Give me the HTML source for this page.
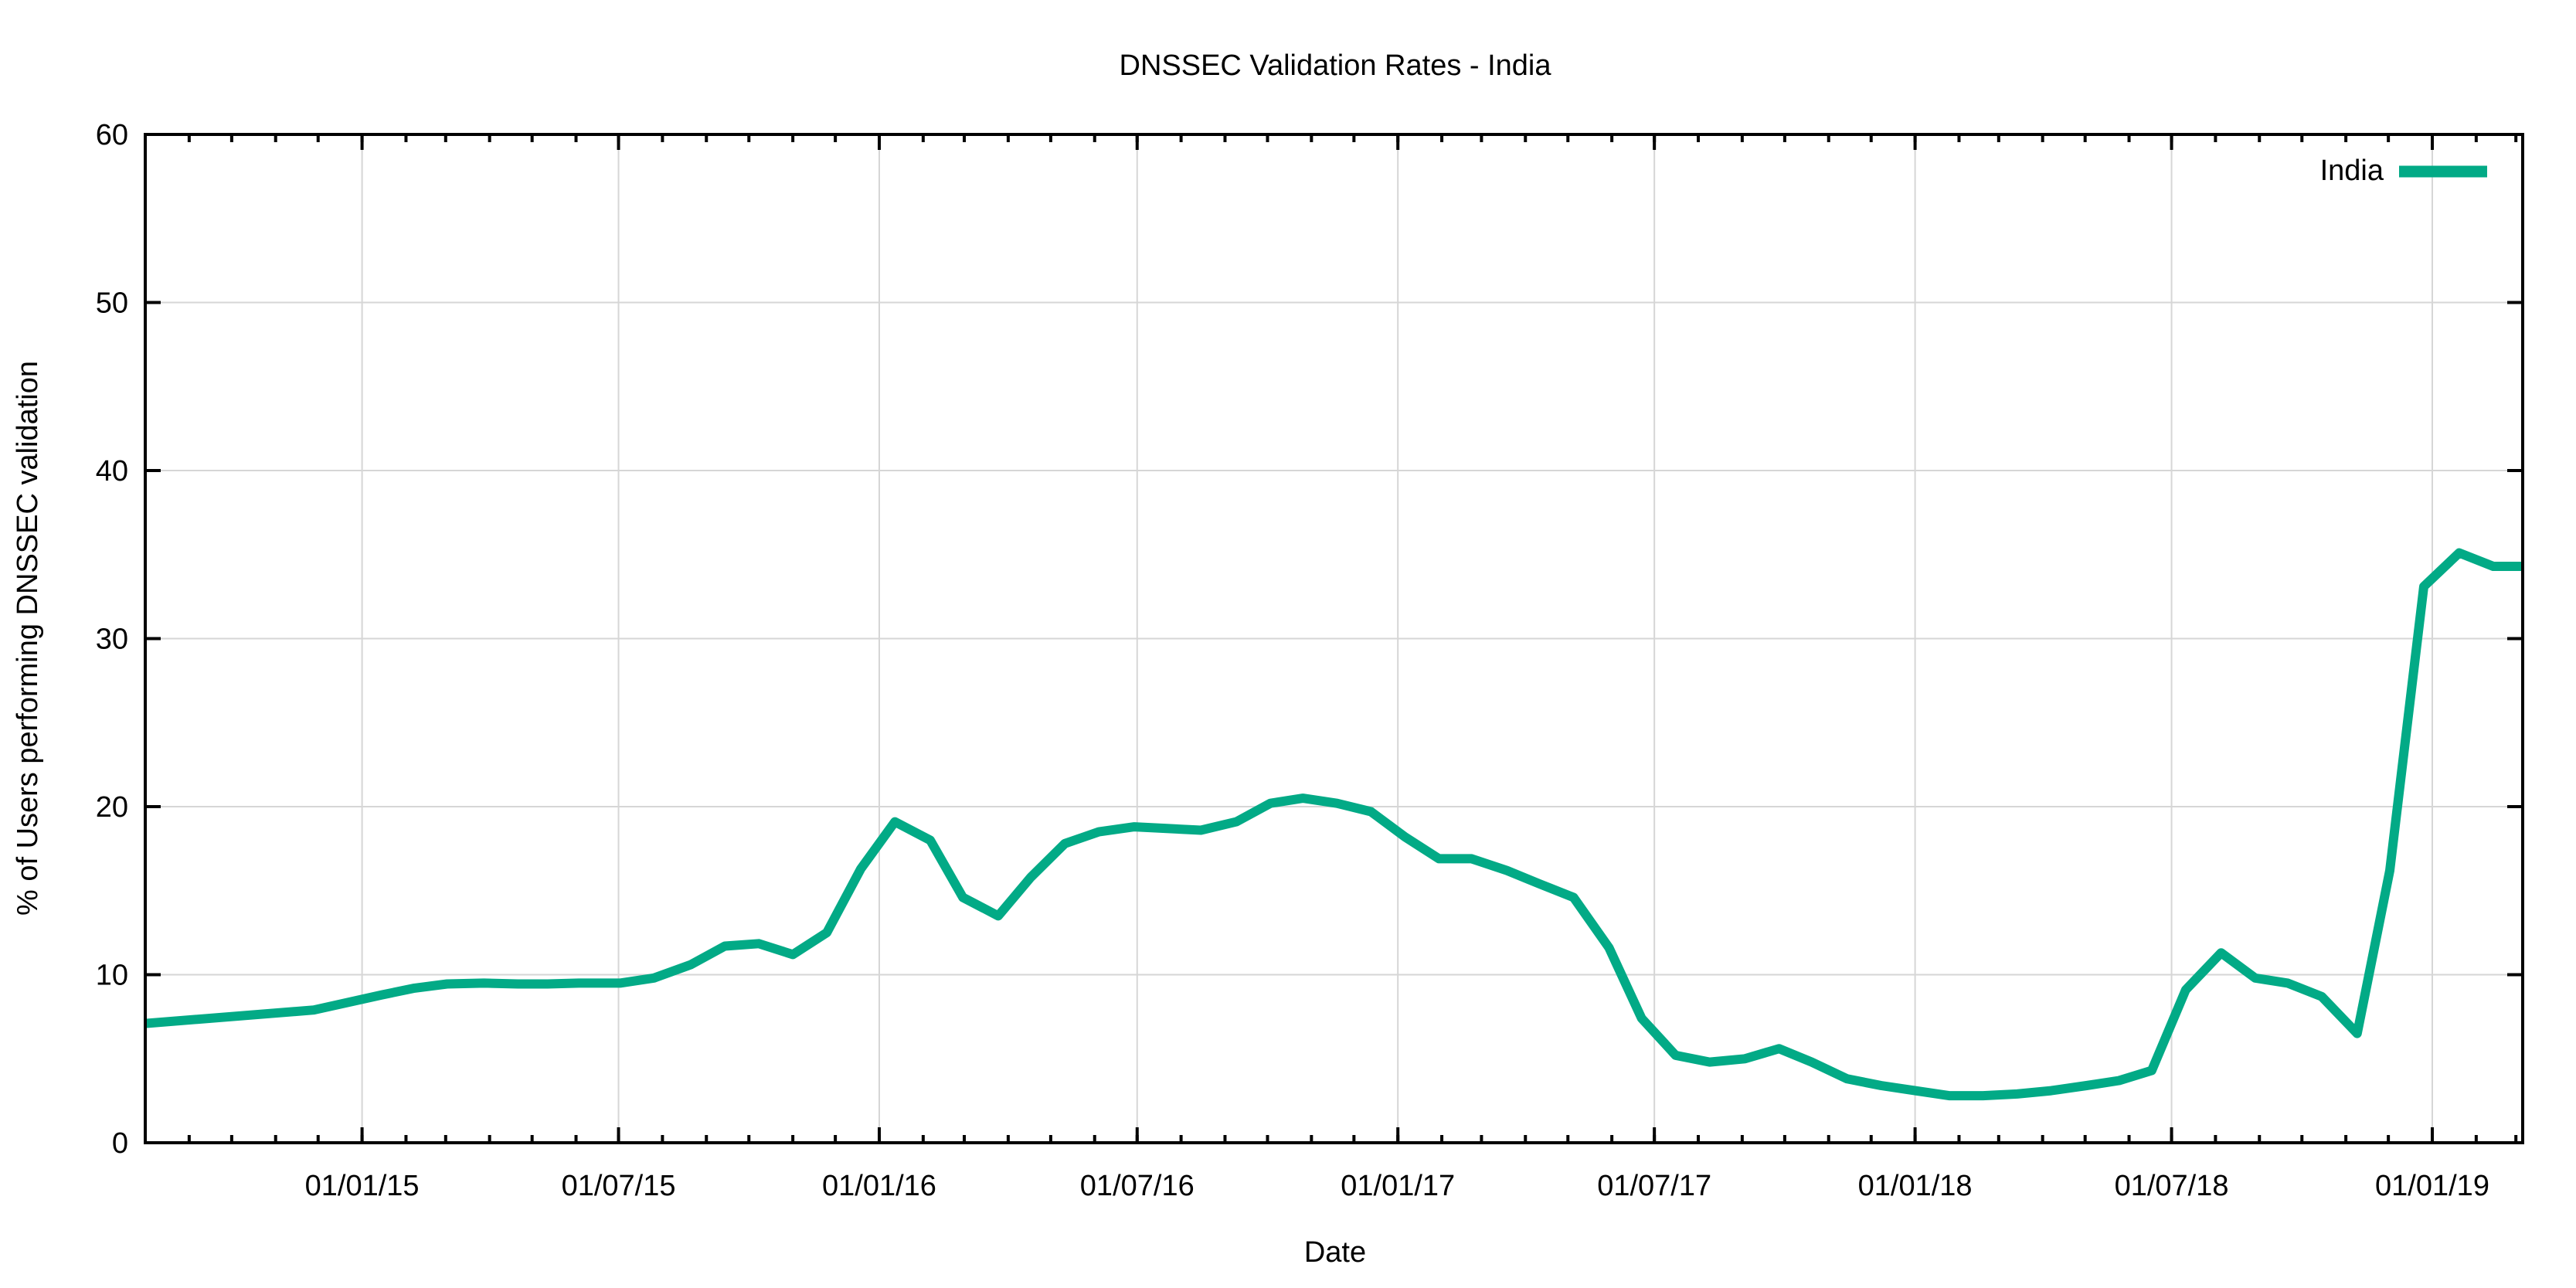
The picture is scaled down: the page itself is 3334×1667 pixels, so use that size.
<!DOCTYPE html>
<html><head><meta charset="utf-8"><style>
html,body{margin:0;padding:0;background:#fff;}
svg{display:block;font-family:"Liberation Sans",Arial,sans-serif;}
</style></head><body>
<svg id="chart" width="3334" height="1667" viewBox="0 0 3334 1667" xmlns="http://www.w3.org/2000/svg">
<rect width="3334" height="1667" fill="#fff"/>
<text x="1728" y="97" font-size="38" text-anchor="middle">DNSSEC Validation Rates - India</text>
<text transform="translate(48,826) rotate(-90)" font-size="38" text-anchor="middle">% of Users performing DNSSEC validation</text>
<text x="1728" y="1633" font-size="38" text-anchor="middle">Date</text>
<g id="grid"></g>
<g id="series"></g>
<g id="axes"></g>
<g id="legend">
<text x="3085" y="233" font-size="38" text-anchor="end">India</text>
<line x1="3105" y1="222" x2="3219" y2="222" stroke="#02aa86" stroke-width="15"/>
</g>
</svg>
<script>
// days since 2015-01-01
const dayOffsets = [-153,-34,14,37,60,86,110,131,153,182,206,232,256,280,304,328,352,376,401,424,449,472,496,520,545,568,592,617,641,664,688,712,736,760,783,808,831,855,880,903,927,951,976,1000,1023,1048,1072,1096,1120,1144,1168,1192,1217,1240,1263,1287,1312,1336,1359,1383,1408,1431,1455,1480,1504,1525];
const rates = [7.1,7.9,8.8,9.2,9.45,9.5,9.45,9.45,9.5,9.5,9.8,10.6,11.7,11.85,11.2,12.5,16.3,19.1,18.0,14.6,13.5,15.8,17.8,18.5,18.8,18.7,18.6,19.1,20.2,20.5,20.2,19.7,18.2,16.9,16.9,16.2,15.4,14.6,11.6,7.4,5.2,4.8,5.0,5.6,4.8,3.8,3.4,3.1,2.8,2.8,2.9,3.1,3.4,3.7,4.3,9.1,11.3,9.8,9.5,8.7,6.5,16.2,33.1,35.1,34.3,34.3];
const yTicks = [0,10,20,30,40,50,60];
const xTickLabels = ["01/01/15","01/07/15","01/01/16","01/07/16","01/01/17","01/07/17","01/01/18","01/07/18","01/01/19"];

const NS="http://www.w3.org/2000/svg";
const L=188,R=3265,T=174,B=1479;
const D0=-153,D1=1524.8;
function xs(d){return L+(d-D0)/(D1-D0)*(R-L);}
function ys(v){return B-v/60*(B-T);}
function mk(tag,attrs,parent){const e=document.createElementNS(NS,tag);for(const k in attrs)e.setAttribute(k,attrs[k]);parent.appendChild(e);return e;}
const base=Date.UTC(2015,0,1);
function dayOf(y,m){return Math.round((Date.UTC(y,m,1)-base)/86400000);}
function parseLbl(s){const p=s.split("/");return dayOf(2000+ +p[2],+p[1]-1);}
const grid=document.getElementById('grid'),axes=document.getElementById('axes'),series=document.getElementById('series');
yTicks.forEach(v=>{
  const y=ys(v);
  if(v>0&&v<60){const g=mk('line',{x1:L,x2:R,y1:y,y2:y,stroke:'#d6d6d6','stroke-width':2},grid);
  
  }
  const t1=mk('line',{x1:L,x2:L+20,y1:y,y2:y,stroke:'#000','stroke-width':4},axes);
  
  
  const t2=mk('line',{x1:R-20,x2:R,y1:y,y2:y,stroke:'#000','stroke-width':4},axes);
  
  
  const lb=mk('text',{x:166,y:y+13,'font-size':38,'text-anchor':'end'},axes);
  lb.textContent=v;
  
  
});
for(let y=2014;y<=2019;y++)for(let m=0;m<12;m++){
  const d=dayOf(y,m); if(d<D0||d>D1)continue;
  const x=xs(d);
  const a=mk('line',{x1:x,x2:x,y1:B,y2:B-10,stroke:'#000','stroke-width':4},axes);
  
  
  const b=mk('line',{x1:x,x2:x,y1:T,y2:T+10,stroke:'#000','stroke-width':4},axes);
  
  
}
xTickLabels.forEach(s=>{
  const x=xs(parseLbl(s));
  const g=mk('line',{x1:x,x2:x,y1:T,y2:B,stroke:'#d6d6d6','stroke-width':2},grid);
  
  
  const a=mk('line',{x1:x,x2:x,y1:B,y2:B-20,stroke:'#000','stroke-width':4},axes);
  
  
  const b=mk('line',{x1:x,x2:x,y1:T,y2:T+20,stroke:'#000','stroke-width':4},axes);
  
  
  const t=mk('text',{x:x,y:1547,'font-size':38,'text-anchor':'middle'},axes);
  t.textContent=s;
  
  
});
const fr=mk('rect',{x:L,y:T,width:R-L,height:B-T,fill:'none',stroke:'#000','stroke-width':4},axes);


const pts=dayOffsets.map((d,i)=>xs(d).toFixed(1)+','+ys(rates[i]).toFixed(1)).join(' ');
const cp=mk('clipPath',{id:'clip'},series);
mk('rect',{x:L,y:T,width:R-L,height:B-T},cp);
const line=mk('polyline',{points:pts,fill:'none',stroke:'#02aa86','stroke-width':12,'stroke-linejoin':'round','clip-path':'url(#clip)'},series);


</script>
</body></html>
